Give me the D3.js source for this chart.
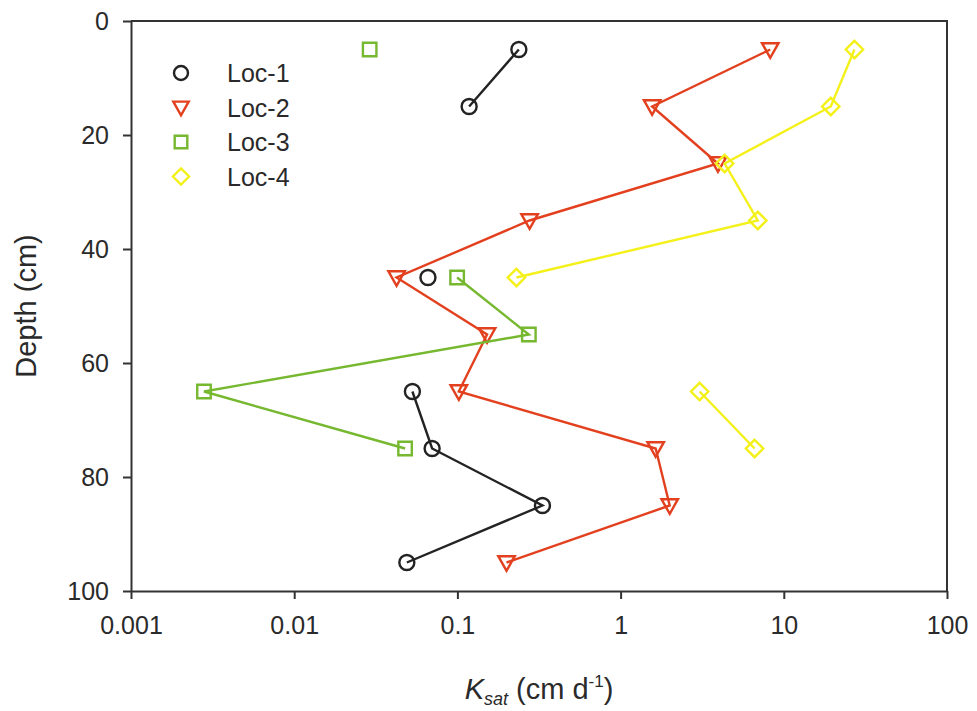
<!DOCTYPE html>
<html>
<head>
<meta charset="utf-8">
<script src="https://cdn.jsdelivr.net/npm/d3@7"></script>
<style>
  html, body { margin: 0; padding: 0; background: #fff; }
  svg { display: block; font-family: "Liberation Sans", Arial, sans-serif; }
</style>
</head>
<body>
<svg id="chart" width="977" height="711"></svg>
<script>
// Saturated hydraulic conductivity profiles at four locations
const depths = [5, 15, 25, 35, 45, 55, 65, 75, 85, 95];
const loc1 = [0.238, 0.118, null, null, 0.066, null, 0.053, 0.070, 0.332, 0.049];
const loc2 = [8.26, 1.56, 3.95, 0.277, 0.0424, 0.152, 0.102, 1.64, 2.0, 0.2];
const loc3 = [0.029, null, null, null, 0.0996, 0.274, 0.0028, 0.0478, null, null];
const loc4 = [27.1, 19.4, 4.34, 6.93, 0.230, null, 3.05, 6.62, null, null];

const seriesNames = ["Loc-1", "Loc-2", "Loc-3", "Loc-4"];
const seriesValues = [loc1, loc2, loc3, loc4];
const xTickValues = [0.001, 0.01, 0.1, 1, 10, 100];
const xTickLabels = ["0.001", "0.01", "0.1", "1", "10", "100"];
const yTickValues = [0, 20, 40, 60, 80, 100];

const colors = ["#232323", "#e2401e", "#76b82f", "#f4f01a"];
const symbols = ["circle", "triangle", "square", "diamond"];

const svg = d3.select("#chart");
const margin = { left: 131, right: 30, top: 21, bottom: 120 };
const W = 977, H = 711;
const plotW = W - margin.left - margin.right;
const plotH = H - margin.top - margin.bottom;

const x = d3.scaleLog().domain([0.001, 100]).range([0, plotW]);
const y = d3.scaleLinear().domain([0, 100]).range([0, plotH]);

const g = svg.append("g").attr("transform", `translate(${margin.left},${margin.top})`);

// frame (top and right)
g.append("path")
  .attr("d", `M0,0H${plotW}V${plotH}`)
  .attr("fill", "none").attr("stroke", "#333").attr("stroke-width", 2);

// axes
const xAxis = d3.axisBottom(x).tickValues(xTickValues)
  .tickFormat((d, i) => xTickLabels[i]).tickSizeInner(8).tickSizeOuter(0).tickPadding(17);
const yAxis = d3.axisLeft(y).tickValues(yTickValues)
  .tickSizeInner(8).tickSizeOuter(0).tickPadding(14);

const gx = g.append("g").attr("transform", `translate(0,${plotH})`).call(xAxis);
const gy = g.append("g").call(yAxis);
[gx, gy].forEach(a => {
  a.select(".domain").attr("stroke", "#333").attr("stroke-width", 2);
  a.selectAll(".tick line").attr("stroke", "#333").attr("stroke-width", 2);
  a.selectAll(".tick text").attr("fill", "#2a2a2a").style("font-size", "25px")
    .style("font-family", '"Liberation Sans", Arial, sans-serif');
});

// marker shapes
function markerPath(type, s) {
  if (type === "circle") {
    const r = s * 0.5;
    return `M${r},0A${r},${r} 0 1,1 ${-r},0A${r},${r} 0 1,1 ${r},0Z`;
  }
  if (type === "square") {
    const h = s * 0.45;
    return `M${-h},${-h}H${h}V${h}H${-h}Z`;
  }
  if (type === "diamond") {
    const h = s * 0.58;
    return `M0,${-h}L${h},0L0,${h}L${-h},0Z`;
  }
  // downward triangle
  const w = s * 0.55, t = s * 0.42;
  return `M${-w},${-t}L${w},${-t}L0,${t + 2}Z`;
}

const line = d3.line()
  .defined(d => d.v != null)
  .x(d => x(d.v))
  .y(d => y(d.depth));

seriesValues.forEach((vals, i) => {
  const pts = depths.map((dep, j) => ({ depth: dep, v: vals[j] }));
  const sg = g.append("g");
  sg.append("path").datum(pts)
    .attr("d", line)
    .attr("fill", "none")
    .attr("stroke", colors[i])
    .attr("stroke-width", 2.4);
  sg.selectAll("path.mk").data(pts.filter(d => d.v != null)).join("path")
    .attr("class", "mk")
    .attr("transform", d => `translate(${x(d.v)},${y(d.depth)})`)
    .attr("d", markerPath(symbols[i], 15))
    .attr("fill", "none")
    .attr("stroke", colors[i])
    .attr("stroke-width", 2.4);
});

// legend
const leg = svg.append("g").attr("transform", "translate(181,73)");
seriesNames.forEach((name, i) => {
  const row = leg.append("g").attr("transform", `translate(0,${i * 34.5})`);
  row.append("path").attr("d", markerPath(symbols[i], 14))
    .attr("fill", "none").attr("stroke", colors[i]).attr("stroke-width", 2.4);
  row.append("text").attr("x", 46).attr("y", 0).attr("dy", "0.36em")
    .attr("fill", "#2a2a2a").style("font-size", "25px").text(name);
});

// axis titles
svg.append("text")
  .attr("transform", `translate(36,${margin.top + plotH / 2}) rotate(-90)`)
  .attr("text-anchor", "middle")
  .attr("fill", "#2a2a2a").style("font-size", "29px")
  .text("Depth (cm)");

const xt = svg.append("text")
  .attr("x", margin.left + plotW / 2).attr("y", 699)
  .attr("text-anchor", "middle")
  .attr("fill", "#2a2a2a").style("font-size", "29px");
xt.append("tspan").style("font-style", "italic").text("K");
xt.append("tspan").style("font-style", "italic").style("font-size", "18px").attr("dy", 6).text("sat");
xt.append("tspan").attr("dy", -6).text(" (cm d");
xt.append("tspan").style("font-size", "17px").attr("dy", -12).text("-1");
xt.append("tspan").attr("dy", 12).text(")");
</script>
</body>
</html>
